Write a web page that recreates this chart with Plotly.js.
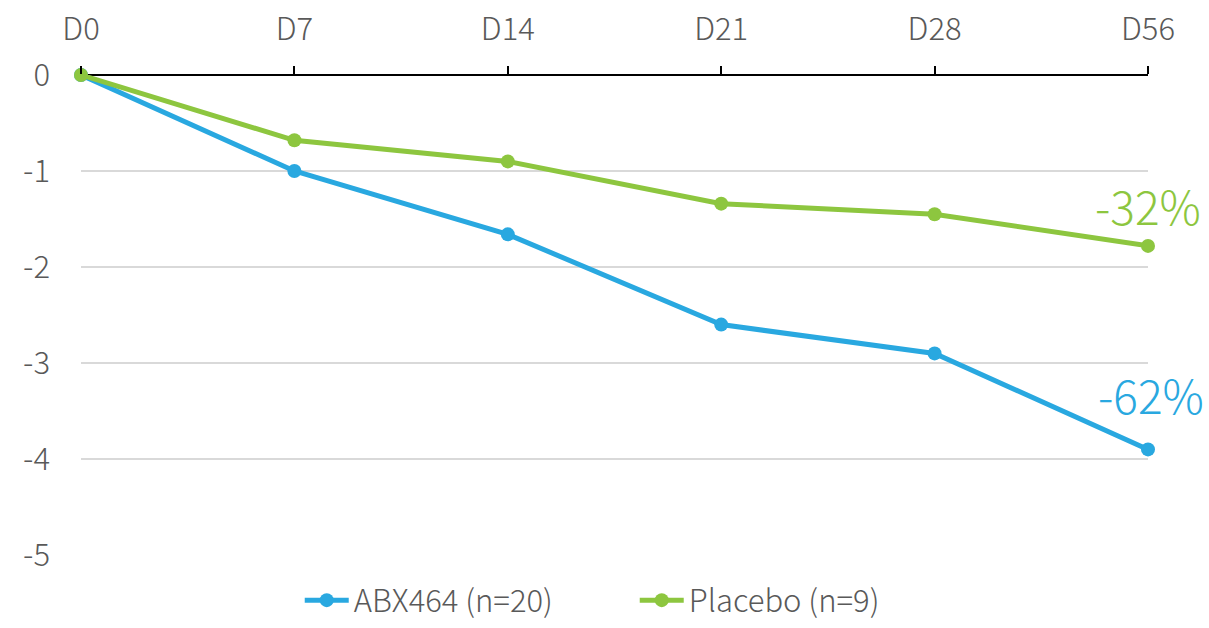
<!DOCTYPE html>
<html><head><meta charset="utf-8">
<script src="https://cdn.plot.ly/plotly-3.0.1.min.js"></script>
<style>html,body{margin:0;padding:0;background:#fff}#c{width:1209px;height:628px}</style>
</head><body><div id="c"></div>
<script>
const days = ["D0","D7","D14","D21","D28","D56"];
const abx = [0, -1.0, -1.66, -2.60, -2.90, -3.90];
const placebo = [0, -0.68, -0.90, -1.34, -1.45, -1.78];
const yTickVals = [0, -1, -2, -3, -4, -5];
const yTickText = ["0", "-1", "-2", "-3", "-4", "-5"];
const abxName = "ABX464 (n=20)";
const placeboName = "Placebo (n=9)";
const abxLabel = "-62%";
const placeboLabel = "-32%";
const blue = "#29A8E0", green = "#8DC63F";
const font = "Noto Sans CJK JP, Noto Sans, sans-serif";

const traces = [
  {x: days, y: abx, name: abxName, mode: "lines+markers", line: {color: blue, width: 5}, marker: {color: blue, size: 14}, cliponaxis: false},
  {x: days, y: placebo, name: placeboName, mode: "lines+markers", line: {color: green, width: 5}, marker: {color: green, size: 14}, cliponaxis: false}
];
const layout = {
  width: 1209, height: 628,
  margin: {l: 81, r: 61, t: 75, b: 73, autoexpand: false},
  paper_bgcolor: "#fff", plot_bgcolor: "#fff",
  font: {family: font, color: "#595959", size: 31, weight: 300},
  xaxis: {type: "category", side: "top", range: [0, 5], showgrid: false, zeroline: false,
          showline: false, ticks: "outside", ticklen: 8, tickcolor: "#000", tickwidth: 2,
          ticklabelstandoff: 14,
          tickfont: {size: 31, color: "#595959", weight: 300}, fixedrange: true},
  yaxis: {range: [-5, 0], tickvals: yTickVals, ticktext: yTickText, showgrid: true, gridcolor: "#D9D9D9", gridwidth: 2,
          zeroline: true, zerolinecolor: "#000", zerolinewidth: 2, showline: false,
          ticks: "", ticklabelstandoff: 30, tickfont: {size: 31, color: "#595959", weight: 300}, fixedrange: true},
  legend: {orientation: "h", x: 0.205, xanchor: "left", y: -0.151, yanchor: "bottom",
           font: {size: 31, color: "#595959", weight: 300}, itemwidth: 44,
           entrywidth: 276, entrywidthmode: "pixels", borderwidth: 0},
  showlegend: true,
  annotations: [
    {x: days[5], y: placebo[5], xref: "x", yref: "y", text: placeboLabel, showarrow: false,
     xanchor: "center", yanchor: "middle", yshift: 41, font: {size: 46, color: green, weight: 300}},
    {x: days[5], y: abx[5], xref: "x", yref: "y", text: abxLabel, showarrow: false,
     xanchor: "center", yanchor: "middle", yshift: 55, xshift: 3, font: {size: 46, color: blue, weight: 300}}
  ]
};
Plotly.newPlot("c", traces, layout, {displayModeBar: false, staticPlot: true});
</script></body></html>
